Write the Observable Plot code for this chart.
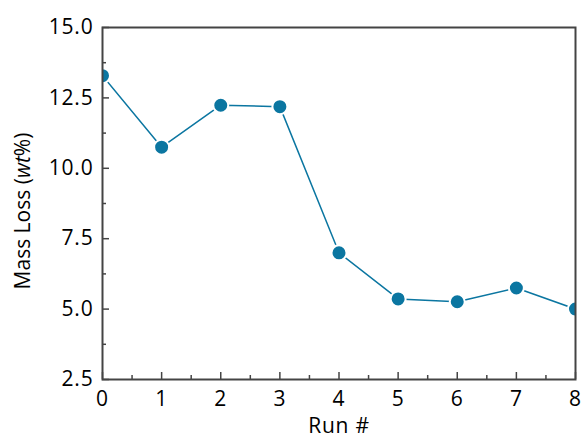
<!DOCTYPE html>
<html>
<head>
<meta charset="utf-8">
<script src="https://cdn.jsdelivr.net/npm/d3@7"></script>
<script src="https://cdn.jsdelivr.net/npm/@observablehq/plot@0.6"></script>
<style>
  html, body { margin: 0; padding: 0; background: #fff; }
  #chart svg { display: block; }
  #chart svg g[aria-label="x-axis tick label"] text,
  #chart svg g[aria-label="y-axis tick label"] text,
  #chart svg g[aria-label="x-axis label"] text { letter-spacing: 0.8px; }
</style>
</head>
<body>
<div id="chart"></div>
<script>
const runs = [0, 1, 2, 3, 4, 5, 6, 7, 8];
const massLoss = [13.29, 10.75, 12.24, 12.19, 7.0, 5.36, 5.26, 5.75, 5.0];
const yMajorTicks = [2.5, 5.0, 7.5, 10.0, 12.5, 15.0];
const yMinorTicks = [3.75, 6.25, 8.75, 11.25, 13.75];
const xMajorTicks = [0, 1, 2, 3, 4, 5, 6, 7, 8];
const xMinorTicks = [0.5, 1.5, 2.5, 3.5, 4.5, 5.5, 6.5, 7.5];
const xLabel = "Run #";

const data = runs.map((r, i) => ({run: r, loss: massLoss[i]}));

const W = 583, H = 437;
const mL = 102, mT = 27, mR = 8, mB = 58;
const innerW = W - mL - mR, innerH = H - mT - mB;
const color = "#0b76a1";
const axisColor = "#444";

const plot = Plot.plot({
  width: W,
  height: H,
  marginLeft: mL,
  marginTop: mT,
  marginRight: mR,
  marginBottom: mB,
  style: {fontFamily: "'Open Sans', sans-serif", fontSize: "21px", color: "#000", background: "#fff", overflow: "visible"},
  x: {domain: [0, 8]},
  y: {domain: [2.5, 15]},
  marks: [
    Plot.tickY(yMajorTicks, {y: d => d, stroke: axisColor, strokeWidth: 1.5, insetRight: innerW - 7}),
    Plot.tickY(yMinorTicks, {y: d => d, stroke: axisColor, strokeWidth: 1.5, insetRight: innerW - 4}),
    Plot.tickX(xMajorTicks, {x: d => d, stroke: axisColor, strokeWidth: 1.5, insetTop: innerH - 7}),
    Plot.tickX(xMinorTicks, {x: d => d, stroke: axisColor, strokeWidth: 1.5, insetTop: innerH - 4}),
    Plot.axisY({ticks: yMajorTicks, tickSize: 0, tickPadding: 9, tickFormat: d3.format(".1f"), label: null, fontSize: 21}),
    Plot.axisX({ticks: xMajorTicks, tickSize: 0, tickPadding: 12, tickFormat: d3.format("d"), label: xLabel, labelAnchor: "center", labelOffset: 53, labelArrow: "none", fontSize: 21}),
    Plot.line(data, {x: "run", y: "loss", stroke: color, strokeWidth: 1.5, clip: true}),
    Plot.dot(data, {x: "run", y: "loss", r: 7.5, fill: color, stroke: "#fff", strokeWidth: 2, clip: true}),
    Plot.frame({stroke: axisColor, strokeWidth: 2})
  ]
});

// y-axis label with italic "wt"
const svg = d3.select(plot);
const yl = svg.append("text")
  .attr("transform", `translate(30, ${mT + innerH / 2 + 8}) rotate(-90)`)
  .attr("text-anchor", "middle")
  .attr("font-family", "'Open Sans', sans-serif")
  .attr("font-size", 21)
  .attr("fill", "#000");
yl.append("tspan").text("Mass Loss (");
yl.append("tspan").attr("font-style", "italic").text("wt");
yl.append("tspan").text("%)");

document.getElementById("chart").appendChild(plot);
</script>
</body>
</html>
